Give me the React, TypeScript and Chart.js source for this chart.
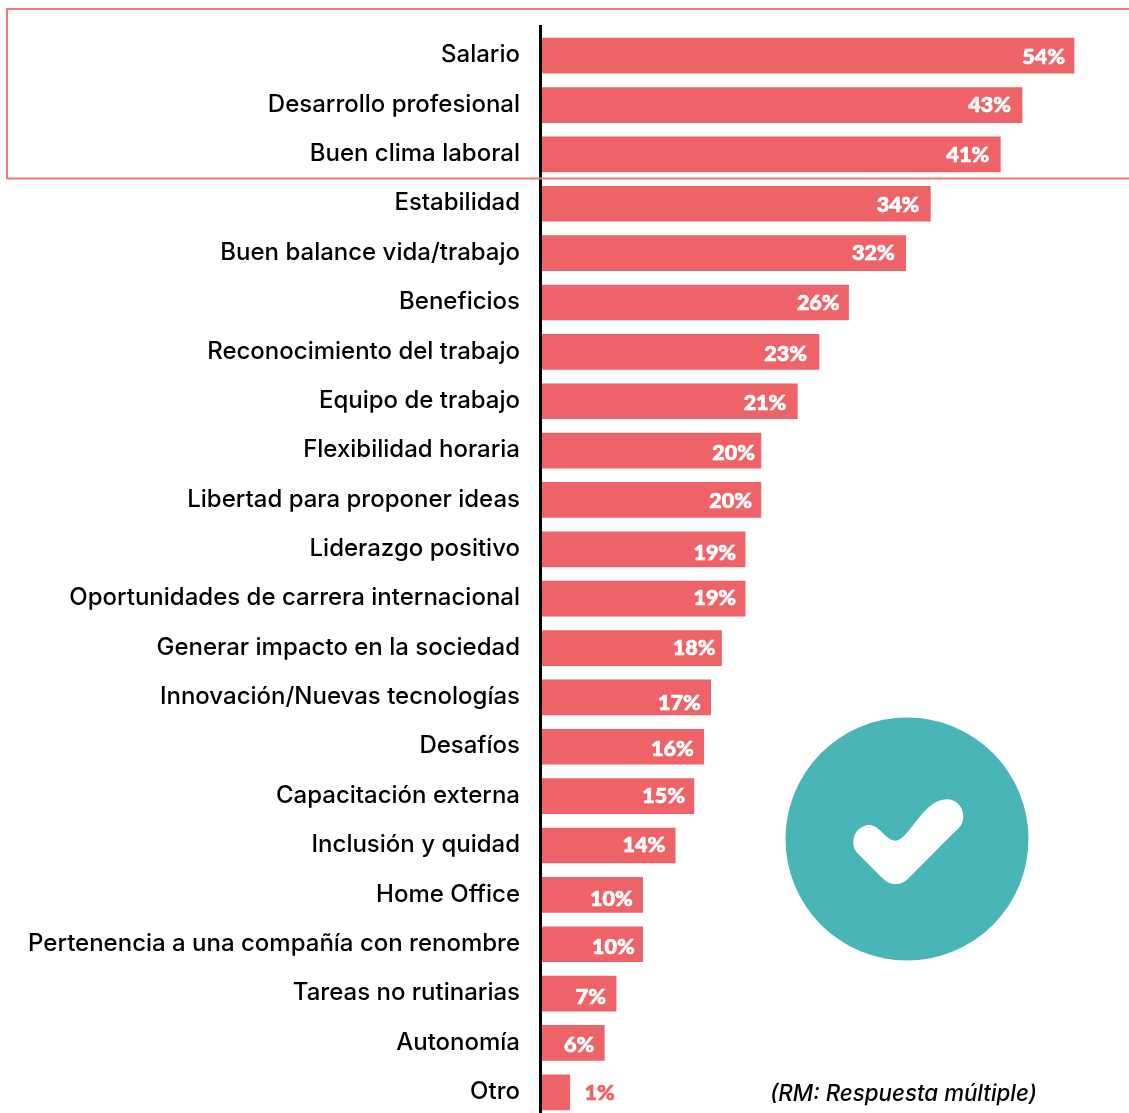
import React, { useEffect, useRef } from "react";
import { Chart, registerables } from "chart.js";

Chart.register(...registerables);

const categories = [
  "Salario", "Desarrollo profesional", "Buen clima laboral", "Estabilidad",
  "Buen balance vida/trabajo", "Beneficios", "Reconocimiento del trabajo",
  "Equipo de trabajo", "Flexibilidad horaria", "Libertad para proponer ideas",
  "Liderazgo positivo", "Oportunidades de carrera internacional",
  "Generar impacto en la sociedad", "Innovación/Nuevas tecnologías", "Desafíos",
  "Capacitación externa", "Inclusión y quidad", "Home Office",
  "Pertenencia a una compañía con renombre", "Tareas no rutinarias", "Autonomía", "Otro",
];
// Printed percentages
const valueLabels = [54, 43, 41, 34, 32, 26, 23, 21, 20, 20, 19, 19, 18, 17, 16, 15, 14, 10, 10, 7, 6, 1];
// Drawn bar lengths (the source's bars are not exactly proportional to its labels)
const barLengths = [54, 48.72, 46.52, 39.42, 36.92, 31.12, 28.12, 25.92, 22.22, 22.22, 20.62, 20.62, 18.22, 17.12, 16.42, 15.42, 13.52, 10.22, 10.22, 7.52, 6.32, 2.82];
// Hand-placement of each printed label in the source
const labelInset = [9, 11, 11, 11, 11, 9, 12, 11, 6, 9, 9, 9, 6, 10, 10, 9, 10, 10, 8, 10, 10, -45];
const labelShiftY = [0, -1, 0, 0, -1, 0, 1, 1, 1, 0, 3, -2, -1, 5, 1, -1, -1, 3, 2, 2, 1, 0];
const note = "(RM: Respuesta múltiple)";

const CORAL = "#EE6367";
const FRAME = "#F2767A";
const TEAL = "#4AB5B7";
const CHECK = "M220,395 C220,365 245,345 268,345 C300,345 315,392 348,392 C385,392 430,268 500,268 C530,268 550,292 550,320 C550,345 535,355 520,370 L390,500 C375,515 365,522 348,522 C330,522 318,515 303,500 L238,435 C228,425 220,415 220,395 Z";

const extras = {
  id: "extras",
  afterDraw(chart: any) {
    const { ctx, scales } = chart;
    const x0 = scales.x.getPixelForValue(0);
    ctx.save();
    // axis line
    ctx.fillStyle = "#000";
    ctx.fillRect(x0 - 3, 25, 3, 1093);
    // value labels
    ctx.font = "900 21.5px Lato";
    ctx.textBaseline = "middle";
    ctx.textAlign = "right";
    ctx.lineWidth = 0.7;
    ctx.lineJoin = "round";
    valueLabels.forEach((v, i) => {
      const inset = labelInset[i];
      const colour = inset < 0 ? CORAL : "#fff";
      const px = scales.x.getPixelForValue(barLengths[i]) - inset;
      const py = scales.y.getPixelForValue(i) + labelShiftY[i] + 1;
      ctx.fillStyle = colour;
      ctx.strokeStyle = colour;
      ctx.fillText(v + "%", px, py);
      ctx.strokeText(v + "%", px, py);
    });
    // highlight frame
    ctx.strokeStyle = FRAME;
    ctx.lineWidth = 2;
    ctx.strokeRect(7, 9, 1140, 169.5);
    // check badge
    ctx.fillStyle = TEAL;
    ctx.beginPath();
    ctx.arc(907, 839, 121.5, 0, Math.PI * 2);
    ctx.fill();
    ctx.translate(780, 710);
    ctx.scale(1 / 3, 1 / 3);
    ctx.fillStyle = "#fff";
    ctx.fill(new Path2D(CHECK));
    ctx.setTransform(1, 0, 0, 1, 0, 0);
    // note
    ctx.fillStyle = "#000";
    ctx.font = "italic 500 22.3px Inter";
    ctx.textAlign = "left";
    ctx.fillText(note, 770, 1094);
    ctx.restore();
  },
};

export default function App() {
  const ref = useRef<HTMLCanvasElement>(null);
  useEffect(() => {
    const chart = new Chart(ref.current!, {
      type: "bar",
      data: {
        labels: categories,
        datasets: [{ data: barLengths, backgroundColor: CORAL, barThickness: 35, borderWidth: 0 }],
      },
      plugins: [extras],
      options: {
        indexAxis: "y",
        animation: false,
        responsive: false,
        layout: { padding: { top: 31, left: 0, right: 0, bottom: 0 } },
        plugins: { legend: { display: false }, tooltip: { enabled: false } },
        scales: {
          x: { display: false, min: 0, max: 59.58 },
          y: {
            afterFit(s: any) { s.width = 542; s.paddingTop = 0; s.paddingBottom = 0; },
            grid: { display: false, drawTicks: false },
            border: { display: false },
            ticks: { color: "#000", padding: 22, labelOffset: -0.5, autoSkip: false, font: { family: "Inter", size: 24, weight: "500" } },
          },
        },
      },
    } as any);
    return () => chart.destroy();
  }, []);
  return (
    <div style={{ position: "fixed", left: 0, top: 0, width: 1129, height: 1113, overflow: "hidden", background: "#fff" }}>
      <canvas ref={ref} width={1129} height={1117} style={{ display: "block" }} />
    </div>
  );
}
